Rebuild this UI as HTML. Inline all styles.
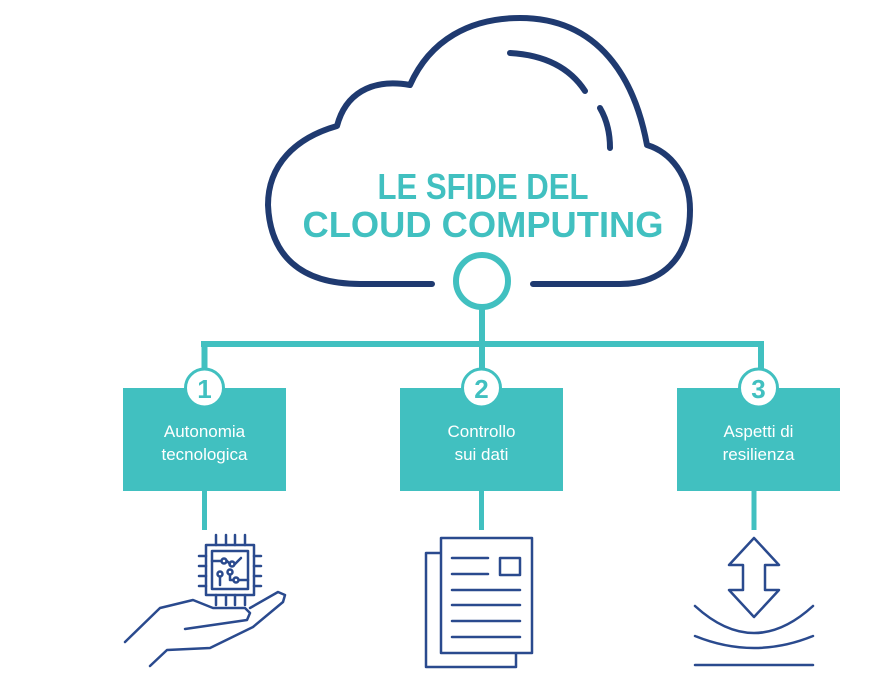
<!DOCTYPE html>
<html><head><meta charset="utf-8"><style>
html,body{margin:0;padding:0;background:#fff;}
svg{display:block}
text{font-family:"Liberation Sans",sans-serif}
</style></head><body>
<svg width="885" height="681" viewBox="0 0 885 681" xmlns="http://www.w3.org/2000/svg">
<!-- cloud -->
<g fill="none" stroke="#1f3a70" stroke-width="6" stroke-linecap="round" stroke-linejoin="round">
<path d="M432,284 L360,284 C300,284 270,255 268,205 C268,165 295,138 337,126 C345,95 370,78 410,85 C430,40 470,18 520,18 C600,18 635,80 647,145 C670,152 690,175 690,210 C690,260 660,284 620,284 L533,284"/>
<path d="M510,53 C545,55 570,68 585,91"/>
<path d="M600,108 C607,120 610,134 610,148"/>
</g>
<text x="483" y="199" text-anchor="middle" font-size="36" font-weight="bold" fill="#41c0c0" textLength="211" lengthAdjust="spacingAndGlyphs">LE SFIDE DEL</text>
<text x="483" y="237" text-anchor="middle" font-size="36" font-weight="bold" fill="#41c0c0" textLength="361" lengthAdjust="spacingAndGlyphs">CLOUD COMPUTING</text>
<!-- connectors -->
<g stroke="#41c0c0" stroke-width="6" fill="none">
<circle cx="482" cy="281" r="26"/>
<line x1="482" y1="307" x2="482" y2="390"/>
<line x1="201" y1="344" x2="764" y2="344"/>
<line x1="204.5" y1="341" x2="204.5" y2="390"/>
<line x1="761" y1="341" x2="761" y2="390"/>
<line x1="204.5" y1="488" x2="204.5" y2="530" stroke-width="5"/>
<line x1="481.5" y1="488" x2="481.5" y2="530" stroke-width="5"/>
<line x1="754" y1="488" x2="754" y2="530" stroke-width="5"/>
</g>
<g fill="#41c0c0">
<rect x="123" y="388" width="163" height="103"/>
<rect x="400" y="388" width="163" height="103"/>
<rect x="677" y="388" width="163" height="103"/>
</g>
<g fill="#fff" stroke="#41c0c0" stroke-width="3">
<circle cx="204.5" cy="388" r="19"/>
<circle cx="481.5" cy="388" r="19"/>
<circle cx="758.5" cy="388" r="19"/>
</g>
<g fill="#41c0c0" font-size="26" font-weight="bold" text-anchor="middle">
<text x="204.5" y="398">1</text>
<text x="481.5" y="398">2</text>
<text x="758.5" y="398">3</text>
</g>
<g fill="#fff" font-size="17" text-anchor="middle">
<text x="204.5" y="437">Autonomia</text>
<text x="204.5" y="460">tecnologica</text>
<text x="481.5" y="437">Controllo</text>
<text x="481.5" y="460">sui dati</text>
<text x="758.5" y="437">Aspetti di</text>
<text x="758.5" y="460">resilienza</text>
</g>
<!-- icons -->
<g fill="none" stroke="#2a4a8e" stroke-width="2.5" stroke-linecap="round" stroke-linejoin="round">
<rect x="206" y="545" width="48" height="50"/>
<rect x="212" y="551" width="36" height="38"/>
<path d="M216,535v10M226,535v10M235,535v10M245,535v10M216,595v10M226,595v10M235,595v10M245,595v10M199,556h7M199,566h7M199,576h7M199,586h7M254,556h7M254,566h7M254,576h7M254,586h7"/>
<circle cx="224" cy="561" r="2.5"/><circle cx="232" cy="564" r="2.5"/><circle cx="230" cy="572" r="2.5"/><circle cx="220" cy="574" r="2.5"/><circle cx="236" cy="580" r="2.5"/>
<path d="M212,561h9M227,561l3,3M235,564l6,-6M220,577v8M230,575v5l3,0M239,580h9"/>
<path d="M125,642 L160,608 L193,600 L213,608 L245,608 L250,613 L247,620 L185,629"/>
<path d="M250,608 L278,592 L285,595 L283,602 L253,627 L210,648 L167,650 L150,666"/>
<rect x="426" y="553" width="90" height="114"/>
<rect x="441" y="538" width="91" height="115" fill="#fff"/>
<path d="M452,558h36M452,574h36M452,590h68M452,605h68M452,621h68M452,637h68"/>
<rect x="500" y="558" width="20" height="17"/>
<path d="M754,538 L779,565 L765,565 L765,590 L779,590 L754,617 L729,590 L743,590 L743,565 L729,565 Z"/>
<path d="M695,606 Q754,660 813,606"/>
<path d="M695,636 Q754,660 813,636"/>
<path d="M695,665 L813,665"/>
</g>
</svg>
</body></html>
